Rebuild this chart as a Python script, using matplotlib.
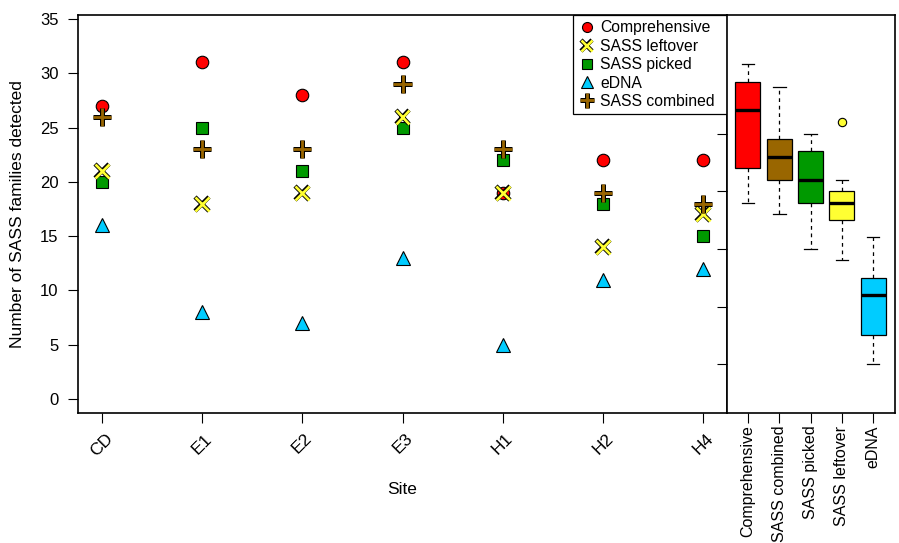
import numpy as np
import matplotlib
matplotlib.use("Agg")
import matplotlib.pyplot as plt
import matplotlib.patheffects as pe

plt.rcParams['font.family'] = ['Liberation Sans', 'DejaVu Sans']

# dados
sites = ["CD", "E1", "E2", "E3", "H1", "H2", "H4"]
comprehensive = [27, 31, 28, 31, 19, 22, 22]
sass_leftover = [21, 18, 19, 26, 19, 14, 17]
sass_picked = [20, 25, 21, 25, 22, 18, 15]
edna = [16, 8, 7, 13, 5, 11, 12]
sass_combined = [26, 23, 23, 29, 23, 19, 18]

box_labels = ["Comprehensive", "SASS combined", "SASS picked", "SASS leftover", "eDNA"]
box_colors = ["#FF0000", "#996600", "#009900", "#FFFF33", "#00CCFF"]

W, H = 899, 543
fig = plt.figure(figsize=(W / 100, H / 100), dpi=100)

# posicoes dos paineis em pixels
ax = fig.add_axes([78 / W, (H - 413) / H, 649 / W, 398 / H])
axb = fig.add_axes([727 / W, (H - 413) / H, 168 / W, 398 / H])

x = np.arange(1, len(sites) + 1)

# painel da esquerda: pontos por site
ax.plot(x, comprehensive, 'o', ms=9, mfc='#FF0000', mec='black', mew=0.8,
        label='Comprehensive', zorder=3)
ax.plot(x, sass_picked, 's', ms=8.5, mfc='#009900', mec='black', mew=0.8,
        label='SASS picked', zorder=3)
ax.plot(x, sass_leftover, 'x', ms=10, color='#FFFF33', mew=1.9, label='SASS leftover',
        path_effects=[pe.Stroke(linewidth=3.2, foreground='black'), pe.Normal()], zorder=4)
ax.plot(x, edna, '^', ms=10.5, mfc='#00CCFF', mec='black', mew=0.8,
        label='eDNA', zorder=3)
ax.plot(x, sass_combined, '+', ms=13, color='#996600', mew=2.0, label='SASS combined',
        path_effects=[pe.Stroke(linewidth=3.6, foreground='black'), pe.Normal()], zorder=5)

ax.set_xlim(0.76, 7.24)
ax.set_ylim(-1.29, 35.37)
ax.set_xticks(x)
ax.set_xticklabels(sites, rotation=45, ha='center', va='top')
ax.set_yticks(range(0, 36, 5))
ax.tick_params(axis='both', length=7, width=0.8)
ax.tick_params(axis='x', labelsize=12.5, pad=6)
ax.tick_params(axis='y', labelsize=12, pad=7)
ax.set_xlabel('Site', fontsize=12.5, va='top')
ax.set_ylabel('Number of SASS families detected', fontsize=12.5)
ax.xaxis.set_label_coords(0.5, (413 - 482) / 398)
ax.yaxis.set_label_coords((25 - 78) / 649, 0.5)
for s in ax.spines.values():
    s.set_linewidth(1.2)

# legenda
h, l = ax.get_legend_handles_labels()
order = [0, 2, 1, 3, 4]
leg = ax.legend([h[i] for i in order], [l[i] for i in order],
                loc='upper left', bbox_to_anchor=(495 / 649, 0, 154 / 649, 1.0),
                mode='expand', borderaxespad=0, fontsize=11.3, markerscale=0.8,
                handlelength=1.1, handletextpad=0.3, borderpad=0.33, labelspacing=0.22,
                fancybox=False, framealpha=1, edgecolor='black')
leg.get_frame().set_linewidth(0.9)

# painel da direita: boxplots
box_data = [comprehensive, sass_combined, sass_picked, sass_leftover, edna]
bp = axb.boxplot(box_data, positions=range(1, 6), widths=0.8, patch_artist=True,
                 capwidths=0.4,
                 boxprops=dict(edgecolor='black', linewidth=0.9),
                 medianprops=dict(color='black', linewidth=2.4),
                 whiskerprops=dict(color='black', linewidth=0.9, linestyle=(0, (3, 3))),
                 capprops=dict(color='black', linewidth=0.9),
                 flierprops=dict(marker='o', markersize=6, markeredgecolor='black',
                                 markeredgewidth=0.8))
for patch, c in zip(bp['boxes'], box_colors):
    patch.set_facecolor(c)
for fl, c in zip(bp['fliers'], box_colors):
    fl.set_markerfacecolor(c)

axb.set_xlim(0.33, 5.7)
axb.set_ylim(0.78, 35.27)
axb.set_xticks(range(1, 6))
axb.set_xticklabels(box_labels, rotation=90, ha='center', va='top')
axb.set_yticks([5, 10, 15, 20, 25])
axb.set_yticklabels([])
axb.tick_params(axis='both', length=7, width=0.8, labelsize=11.5)
axb.tick_params(axis='x', pad=2)
for s in axb.spines.values():
    s.set_linewidth(1.2)

fig.savefig('out.png', dpi=100)
